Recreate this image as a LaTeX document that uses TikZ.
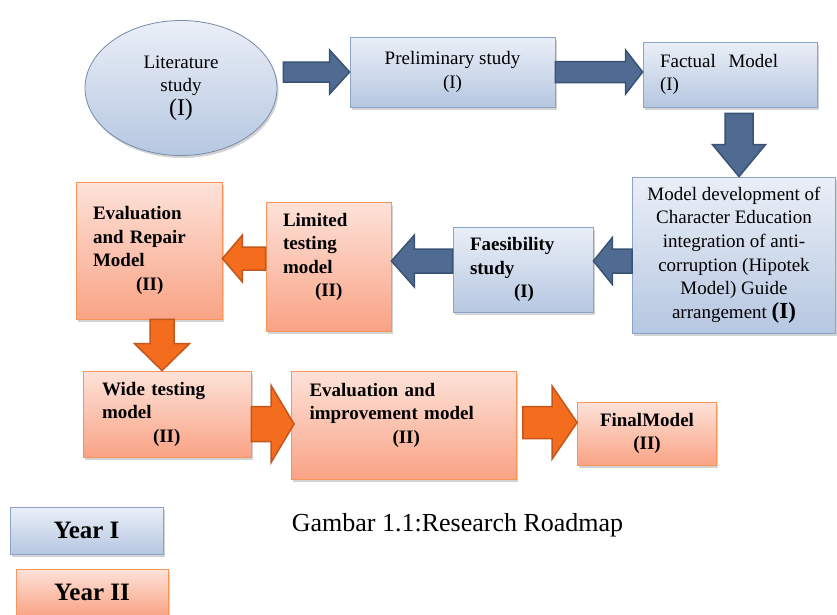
\documentclass[tikz,border=0pt]{standalone}
\usepackage{fontspec}
\setmainfont{Liberation Serif}
\usetikzlibrary{shapes.geometric,calc,shadows}

\definecolor{blueTop}{HTML}{EAEFF7}
\definecolor{blueBot}{HTML}{B6C7E1}
\definecolor{blueLine}{HTML}{8AA3CA}
\definecolor{orTop}{HTML}{FDE2D9}
\definecolor{orBot}{HTML}{F9A385}
\definecolor{orLine}{HTML}{F7955B}
\definecolor{arrBlue}{HTML}{4F6B92}
\definecolor{arrBlueD}{HTML}{3A5374}
\definecolor{arrOr}{HTML}{F46D1E}
\definecolor{arrOrD}{HTML}{C4561C}

\newcommand{\fatarrow}[6]{%
  \coordinate (hb) at ($(#3)!#6!(#2)$);
  \draw[#1] ($(#2)!#4!90:(#3)$) -- ($(hb)!#4!-90:(#2)$) -- ($(hb)!#5!-90:(#2)$) -- (#3)
    -- ($(hb)!#5!90:(#2)$) -- ($(hb)!#4!90:(#2)$) -- ($(#2)!#4!-90:(#3)$) -- cycle;}

\begin{document}
\begin{tikzpicture}[x=1pt,y=-1pt,
  boxfont/.style={font=\fontsize{19}{23.5}\selectfont},
  yearone/.style={draw=blueLine,line width=0.8pt,top color=blueTop,bottom color=blueBot,
    drop shadow={shadow xshift=1.5pt,shadow yshift=-2.5pt,opacity=0.35},inner sep=0pt,boxfont},
  yeartwo/.style={draw=orLine,line width=0.8pt,top color=orTop,bottom color=orBot,
    drop shadow={shadow xshift=1.5pt,shadow yshift=-2.5pt,opacity=0.35},inner sep=0pt,boxfont},
  lefttext/.style={align=left,inner xsep=17pt,inner ysep=0pt},
  bluearr/.style={fill=arrBlue,draw=arrBlueD,line width=1.5pt,line join=miter},
  orarr/.style={fill=arrOr,draw=arrOrD,line width=1.5pt,line join=miter}]
\useasboundingbox (0,0) rectangle (837,614);

\node[yearone,ellipse,draw=blueLine!85!black,minimum width=192pt,minimum height=135pt,align=center] (lit) at (181,88)
  {Literature\\study\\{\fontsize{24}{26}\selectfont (I)}};
\node[yearone,minimum width=205pt,minimum height=70pt,align=center] (prelim) at (452.5,72)
  {Preliminary study\\(I)};
\node[yearone,lefttext,text width=140pt,minimum height=65pt] (fact) at (730,74.5)
  {Factual~~Model\\(I)};
\node[yearone,minimum width=203pt,minimum height=156pt,align=center] (dev) at (734,255)
  {Model development of\\Character Education\\integration of anti-\\corruption (Hipotek\\Model) Guide\\arrangement {\bfseries\fontsize{23}{23}\selectfont (I)}};
\node[yearone,lefttext,text width=106pt,minimum height=85pt,font=\fontsize{19}{23.5}\selectfont\bfseries] (feas) at (523,269.5)
  {Faesibility\\study\\\hspace*{44pt}(I)};
\node[yeartwo,lefttext,text width=91pt,minimum height=129pt,font=\fontsize{19}{23.5}\selectfont\bfseries] (lim) at (328.5,266.5)
  {Limited\\testing\\model\\\hspace*{32pt}(II)\\~};
\node[yeartwo,lefttext,text width=112pt,minimum height=137pt,font=\fontsize{19}{23.5}\selectfont\bfseries] (evrep) at (149,250.5)
  {Evaluation\\and Repair\\Model\\\hspace*{43pt}(II)};
\node[yeartwo,lefttext,inner xsep=19pt,text width=130pt,minimum height=86pt,font=\fontsize{19}{23.5}\selectfont\bfseries] (wide) at (167,414)
  {Wide testing\\model\\\hspace*{51pt}(II)};
\node[yeartwo,lefttext,inner xsep=18pt,text width=189pt,minimum height=108pt,font=\fontsize{19}{23.5}\selectfont\bfseries] (evimp) at (404,425)
  {Evaluation and\\improvement model\\\hspace*{83pt}(II)\\~};
\node[yeartwo,minimum width=139pt,minimum height=63pt,align=center,font=\fontsize{19}{23.5}\selectfont\bfseries] (final) at (647,433.5)
  {FinalModel\\(II)};

\node[yearone,minimum width=153pt,minimum height=47pt,font=\fontsize{25}{28}\selectfont\bfseries] (yr1) at (86.5,530.5) {Year I};
\node[yeartwo,minimum width=152pt,minimum height=47pt,font=\fontsize{25}{28}\selectfont\bfseries] (yr2) at (92,592.5) {Year II};
\node[font=\fontsize{26}{30}\selectfont] (cap) at (457.5,525) {Gambar 1.1:Research Roadmap};

\coordinate (a1s) at ($(lit.east |- prelim.west)+(6,0)$);
\fatarrow{bluearr}{a1s}{prelim.west}{10pt}{22pt}{20pt}
\coordinate (a2e) at (fact.west |- prelim.east);
\fatarrow{bluearr}{prelim.east}{a2e}{10.5pt}{22pt}{17pt}
\coordinate (a3s) at ($(fact.south)+(9,6)$);
\coordinate (a3e) at (a3s |- dev.north);
\fatarrow{bluearr}{a3s}{a3e}{14pt}{26.5pt}{32pt}
\coordinate (a4s) at ($(dev.west)+(0,6)$);
\coordinate (a4e) at (feas.east |- a4s);
\fatarrow{bluearr}{a4s}{a4e}{12pt}{23.5pt}{19pt}
\coordinate (a5s) at (feas.west |- a4s);
\coordinate (a5e) at (lim.east |- a4s);
\fatarrow{bluearr}{a5s}{a5e}{12pt}{26pt}{23pt}
\coordinate (a6s) at ($(lim.west)+(0,-8)$);
\coordinate (a6e) at (evrep.east |- a6s);
\fatarrow{orarr}{a6s}{a6e}{11.5pt}{23.5pt}{20pt}
\coordinate (a7s) at ($(evrep.south)+(13,0)$);
\coordinate (a7e) at (a7s |- wide.north);
\fatarrow{orarr}{a7s}{a7e}{12pt}{27.5pt}{27pt}
\coordinate (a8s) at ($(wide.east)+(0,10)$);
\coordinate (a8e) at ($(evimp.west |- a8s)+(3,0)$);
\fatarrow{orarr}{a8s}{a8e}{17.5pt}{38.5pt}{23pt}
\coordinate (a9e) at ($(final.west)+(0,-11)$);
\coordinate (a9s) at ($(evimp.east |- a9e)+(6,0)$);
\fatarrow{orarr}{a9s}{a9e}{16pt}{36.5pt}{25pt}
\end{tikzpicture}
\end{document}
